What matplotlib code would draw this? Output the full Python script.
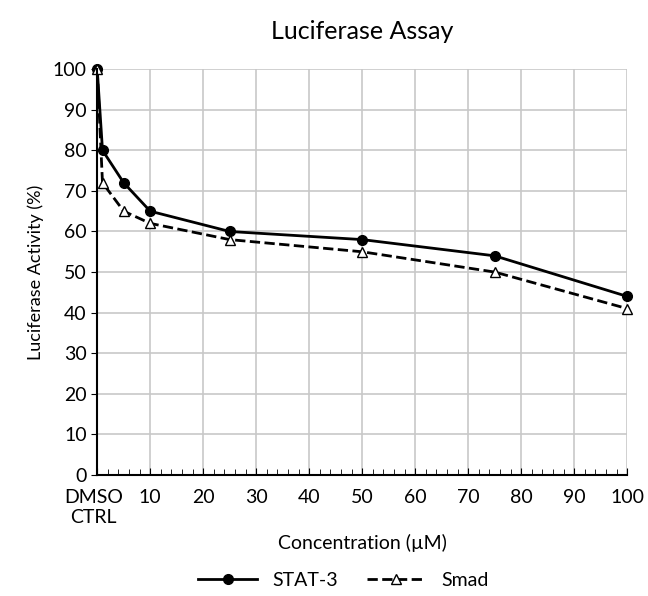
import matplotlib.pyplot as plt
import matplotlib.transforms as mtransforms
from matplotlib.ticker import MultipleLocator

plt.rcParams['font.family'] = ['Lato', 'DejaVu Sans']

# concentracion en uM (0 = control DMSO)
conc = [0, 1, 5, 10, 25, 50, 75, 100]
stat3 = [100, 80, 72, 65, 60, 58, 54, 44]
smad = [100, 72, 65, 62, 58, 55, 50, 41]
xticks = [0, 10, 20, 30, 40, 50, 60, 70, 80, 90, 100]
xlabels = ["DMSO\nCTRL", "10", "20", "30", "40", "50", "60", "70", "80", "90", "100"]

fig = plt.figure(figsize=(6.48, 5.96), dpi=100)
ax = fig.add_axes([0.150, 0.203, 0.818, 0.681])

ax.plot(conc, stat3, "k-o", linewidth=2, markersize=7, label="STAT-3", clip_on=False)
ax.plot(conc, smad, "k--^", linewidth=2, markersize=7, markerfacecolor="white",
        markeredgewidth=1, label="Smad", clip_on=False)

ax.set_xlim(0, 100)
ax.set_ylim(0, 100)
ax.set_xticks(xticks)
ax.set_xticklabels(xlabels, fontsize=14)
ax.xaxis.set_minor_locator(MultipleLocator(2))
ax.set_yticks(range(0, 101, 10))
ax.tick_params(axis="y", labelsize=14, length=4)
ax.tick_params(axis="x", which="both", direction="in", length=5, pad=10)
ax.tick_params(axis="x", which="minor", length=4)
lab0 = ax.get_xticklabels()[0]
lab0.set_horizontalalignment("center")
lab0.set_transform(lab0.get_transform() +
                   mtransforms.ScaledTranslation(-4 / 100, 0, fig.dpi_scale_trans))

ax.grid(True, color="#c8c8c8", linewidth=1.2)
ax.set_axisbelow(True)
for s in ["top", "right"]:
    ax.spines[s].set_visible(False)
for s in ["left", "bottom"]:
    ax.spines[s].set_linewidth(1.5)

ax.set_title("Luciferase Assay", fontsize=18, pad=22)
ax.set_xlabel("Concentration (\u00b5M)", fontsize=14, labelpad=6)
ax.set_ylabel("Luciferase Activity (%)", fontsize=13, labelpad=6)

fig.legend(loc="lower center", bbox_to_anchor=(0.53, -0.017), ncol=2, frameon=False,
           fontsize=14, handlelength=3, columnspacing=1.5)

fig.savefig("out.png", dpi=100)
